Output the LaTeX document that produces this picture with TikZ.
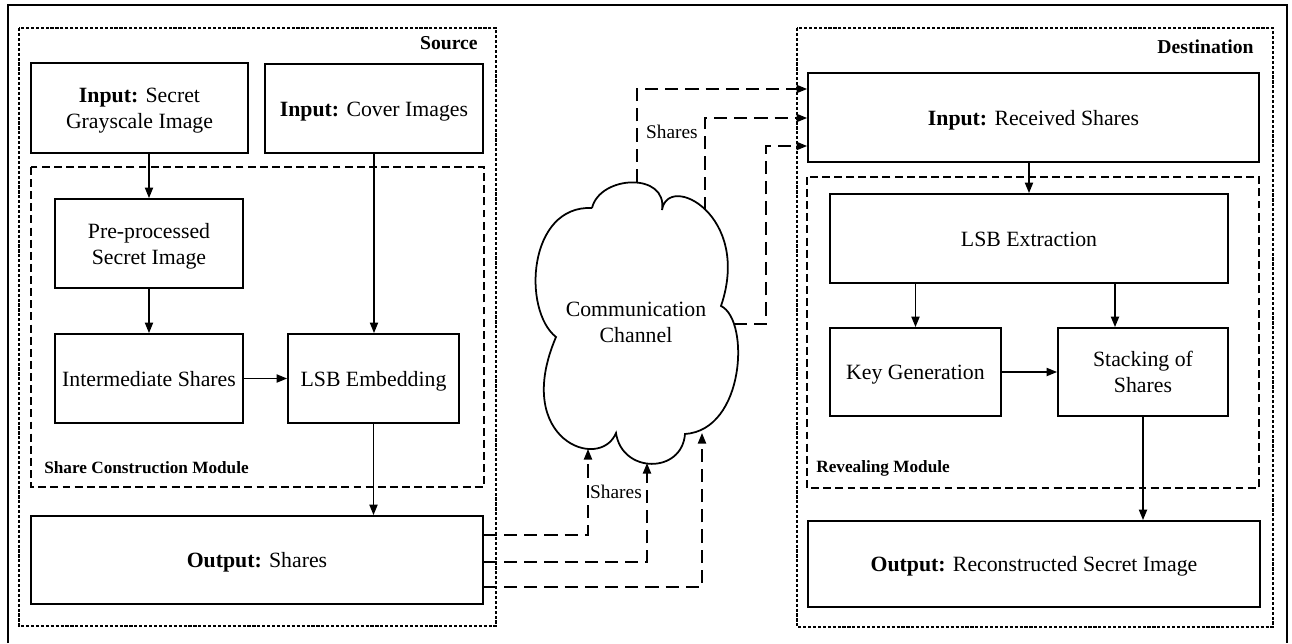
\documentclass[tikz,border=0pt]{standalone}
\usepackage{fontspec}
\setmainfont{Liberation Serif}
\usetikzlibrary{arrows.meta}
\newcommand\boxtxt[1]{\raisebox{-1.5pt}[\height][\depth]{\begin{tabular}{@{}c@{}}#1\end{tabular}}}
\begin{document}
\begin{tikzpicture}[x=0.02cm,y=-0.02cm,
  box/.style={draw,line width=1pt,inner sep=0pt,align=center,font=\fontsize{12.4}{14.8}\selectfont},
  arr/.style={line width=1pt,-{Triangle[length=6pt,width=4.6pt]}},
  conn/.style={line width=1pt,dash pattern=on 7.5pt off 4pt},
  connarr/.style={conn,-{Triangle[length=6pt,width=4.6pt]}},
  region/.style={line width=0.9pt,dash pattern=on 1.8pt off 1pt},
  module/.style={line width=1pt,dash pattern=on 4.5pt off 2.4pt},
  ttl/.style={font=\fontsize{11.2}{13}\selectfont\bfseries,inner sep=0pt},
  mtl/.style={font=\fontsize{9.8}{11}\selectfont\bfseries,inner sep=0pt},
  lbl/.style={font=\fontsize{11}{13}\selectfont,inner sep=0pt,fill=white}]
\useasboundingbox (0,0) rectangle (1292,643);
% outer frame
\draw[line width=1.1pt] (8,643) -- (8,5) -- (1287,5) -- (1287,643);
% regions
\draw[region] (19,28) rectangle (496,626);
\draw[region] (797,28) rectangle (1273,627);
\draw[module] (31,167) rectangle (484,487);
\draw[module] (807,177) rectangle (1259,488);
\node[ttl,anchor=east] (src) at (478,43) {Source};
\node[ttl,anchor=east] (dst) at (1254,47) {Destination};
\node[mtl,anchor=west] (scm) at (44,468) {Share Construction Module};
\node[mtl,anchor=west] (rvm) at (816,468) {Revealing Module};
% source boxes
\node[box,minimum width=4.34cm,minimum height=1.8cm] (Secret) at (139.5,108) {\boxtxt{\textbf{Input:} Secret\\Grayscale Image}};
\node[box,minimum width=4.36cm,minimum height=1.78cm] (Cover) at (374,108.5) {\boxtxt{\textbf{Input:} Cover Images}};
\node[box,minimum width=3.76cm,minimum height=1.78cm] (Pre) at (149,243.5) {\boxtxt{Pre-processed\\Secret Image}};
\node[box,minimum width=3.76cm,minimum height=1.78cm] (Inter) at (149,378.5) {\boxtxt{Intermediate Shares}};
\node[box,minimum width=3.42cm,minimum height=1.78cm] (LSBE) at (373.5,378.5) {\boxtxt{LSB Embedding}};
\node[box,minimum width=9.04cm,minimum height=1.76cm] (OutS) at (257,560) {\boxtxt{\textbf{Output:} Shares}};
% destination boxes
\node[box,minimum width=9.02cm,minimum height=1.78cm] (InR) at (1033.5,117.5) {\boxtxt{\textbf{Input:} Received Shares}};
\node[box,minimum width=7.96cm,minimum height=1.78cm] (LSBX) at (1029,238.5) {\boxtxt{LSB Extraction}};
\node[box,minimum width=3.42cm,minimum height=1.76cm] (Key) at (915.5,372) {\boxtxt{Key Generation}};
\node[box,minimum width=3.4cm,minimum height=1.76cm] (Stack) at (1143,372) {\boxtxt{Stacking of\\Shares}};
\node[box,minimum width=9.04cm,minimum height=1.72cm] (OutR) at (1034,564) {\boxtxt{\textbf{Output:} Reconstructed Secret Image}};
% cloud
\draw[line width=1pt] (592,208) .. controls (600,175) and (668,172) .. (662,210)
  .. controls (668,172) and (752,215) .. (721,306)
  .. controls (750,320) and (745,430) .. (685,434)
  .. controls (682,474) and (622,474) .. (616,433)
  .. controls (600,472) and (512,440) .. (556,337)
  .. controls (522,310) and (528,205) .. (592,208);
\node[font=\fontsize{12.4}{14.8}\selectfont,align=center,inner sep=0pt] (chan) at (636,322) {Communication\\Channel};
\coordinate (cb1) at (588,449);
\coordinate (cb2) at (647,463);
\coordinate (cb3) at (702,433);
\coordinate (ct1) at (637,182);
\coordinate (ct2) at (705,210);
\coordinate (cr3) at (734,324);
\coordinate (k3) at (766,324);
% solid arrows
\draw[arr] (Pre.north |- Secret.south) -- (Pre.north);
\draw[arr] (Pre.south) -- (Inter.north);
\draw[arr] (Inter.east) -- (LSBE.west);
\draw[arr] (Cover.south) -- (Cover.south |- LSBE.north);
\draw[arr] (LSBE.south) -- (LSBE.south |- OutS.north);
\draw[arr] (InR.south -| LSBX.north) -- (LSBX.north);
\draw[arr] (LSBX.south -| Key.north) -- (Key.north);
\draw[arr] (LSBX.south -| 1115,0) -- (Stack.north -| 1115,0);
\draw[arr] (Key.east) -- (Stack.west);
\draw[arr] (Stack.south) -- (Stack.south |- OutR.north);
% dashed share connectors
\draw[connarr] (OutS.east |- 0,535) -| (cb1);
\draw[connarr] (OutS.east |- 0,562) -| (cb2);
\draw[connarr] (OutS.east |- 0,587) -| (cb3);
\draw[connarr] (ct1) |- (InR.west |- 0,89);
\draw[connarr] (ct2) |- (InR.west |- 0,118);
\draw[connarr] (cr3) -- (k3) |- (InR.west |- 0,146);
\node[lbl] (sh1) at (672,132) {Shares};
\node[lbl] (sh2) at (616,492) {Shares};
\end{tikzpicture}
\end{document}
